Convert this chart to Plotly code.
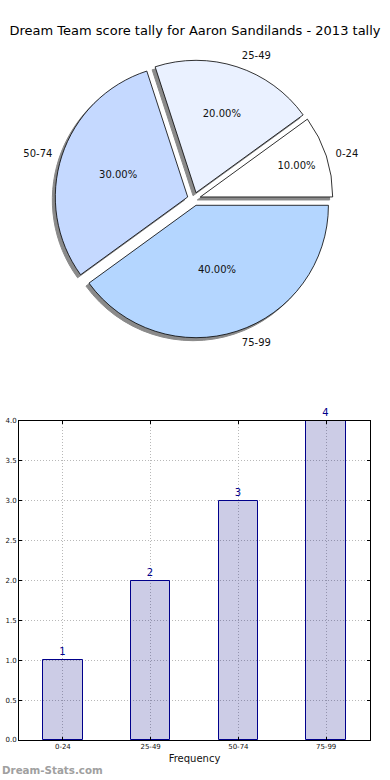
import plotly.graph_objects as go

title_text = "Dream Team score tally for Aaron Sandilands - 2013 tally"
categories = ["0-24", "25-49", "50-74", "75-99"]
counts = [1, 2, 3, 4]
pie_colors = ["#ffffff", "#eaf1ff", "#c5d9ff", "#b4d6ff"]
explode = [0.05, 0.05, 0.05, 0.05]
y_ticks = [0.0, 0.5, 1.0, 1.5, 2.0, 2.5, 3.0, 3.5, 4.0]

W, H = 390, 780
FONT = "DejaVu Sans"

# pie geometry (pixels)
pie_cx, pie_cy, pie_box = 194, 199, 278
label_box = 292
shadow_dx, shadow_dy = -3, 3
# first slice starts at 3 o'clock and runs counterclockwise
pie_rotation = 90 - 360 * counts[0] / sum(counts)


def dom(cx, cy, box):
    x0 = (cx - box / 2) / W
    x1 = (cx + box / 2) / W
    y0 = 1 - (cy + box / 2) / H
    y1 = 1 - (cy - box / 2) / H
    return dict(x=[x0, x1], y=[y0, y1])


fig = go.Figure()

# shadow
fig.add_trace(go.Pie(
    labels=categories, values=counts, sort=False, direction="counterclockwise",
    rotation=pie_rotation, pull=explode, domain=dom(pie_cx + shadow_dx, pie_cy + shadow_dy, pie_box),
    marker=dict(colors=["#8a8a8a"] * 4, line=dict(color="#8a8a8a", width=1)),
    textinfo="none", hoverinfo="skip", showlegend=False,
))
# main pie with percentages
fig.add_trace(go.Pie(
    labels=categories, values=counts, sort=False, direction="counterclockwise",
    rotation=pie_rotation, pull=explode, domain=dom(pie_cx, pie_cy, pie_box),
    marker=dict(colors=pie_colors, line=dict(color="#000000", width=0.8)),
    texttemplate="%{percent:.2%}", textposition="inside",
    insidetextorientation="horizontal",
    textfont=dict(family=FONT, size=10, color="#111111"),
    hoverinfo="label+percent", showlegend=False,
))
# outside labels (invisible slices, slightly larger so labels sit further out)
fig.add_trace(go.Pie(
    labels=categories, values=counts, sort=False, direction="counterclockwise",
    rotation=pie_rotation, pull=explode, domain=dom(pie_cx, pie_cy, label_box),
    marker=dict(colors=["rgba(0,0,0,0)"] * 4, line=dict(width=0)),
    textinfo="label", textposition="outside",
    outsidetextfont=dict(family=FONT, size=10, color="#111111"),
    hoverinfo="skip", showlegend=False,
))

# bar chart
fig.add_trace(go.Bar(
    x=categories, y=counts, width=0.45,
    marker=dict(color="rgba(0,0,128,0.2)", line=dict(color="#00008b", width=1)),
    text=[str(c) for c in counts], textposition="outside", cliponaxis=False,
    textfont=dict(family=FONT, size=10, color="#00008b"),
    showlegend=False, xaxis="x", yaxis="y",
))

grid_style = dict(showgrid=True, gridcolor="#b8b8b8", griddash="1px,2px", gridwidth=1)

fig.update_layout(
    width=W, height=H, autosize=False,
    margin=dict(l=0, r=0, t=0, b=0),
    paper_bgcolor="white", plot_bgcolor="white",
    font=dict(family=FONT, color="#111111"),
    title=dict(text=title_text, x=0.5, xanchor="center", y=1 - 30 / H, yanchor="middle",
               font=dict(family=FONT, size=13, color="#000000")),
    xaxis=dict(domain=[19 / W, 370 / W], anchor="y", range=[-0.5, 3.5],
               **grid_style,
               showline=True, linecolor="black", linewidth=1, mirror="ticks",
               ticks="inside", ticklen=3, tickcolor="black",
               tickfont=dict(family=FONT, size=7, color="#111111"),
               title=dict(text="Frequency", font=dict(family=FONT, size=10, color="#111111"), standoff=4),
               automargin=False, fixedrange=True),
    yaxis=dict(domain=[1 - 740 / H, 1 - 421 / H], anchor="x", range=[0, 4],
               tickvals=y_ticks, ticktext=[f"{v:.1f}" for v in y_ticks],
               **grid_style,
               showline=True, linecolor="black", linewidth=1, mirror="ticks",
               ticks="inside", ticklen=3, tickcolor="black",
               tickfont=dict(family=FONT, size=7, color="#111111"),
               zeroline=False, automargin=False, fixedrange=True),
    bargap=0,
    annotations=[dict(text="<b>Dream-Stats.com</b>", xref="paper", yref="paper",
                      x=0, y=1 - 770 / H, xanchor="left", yanchor="middle", showarrow=False,
                      font=dict(family=FONT, size=10.3, color="#a0a0a0"))],
)

fig.write_html("out.html", config={"displayModeBar": False},
               post_script="document.body.style.margin='0';document.body.style.overflow='hidden';")
